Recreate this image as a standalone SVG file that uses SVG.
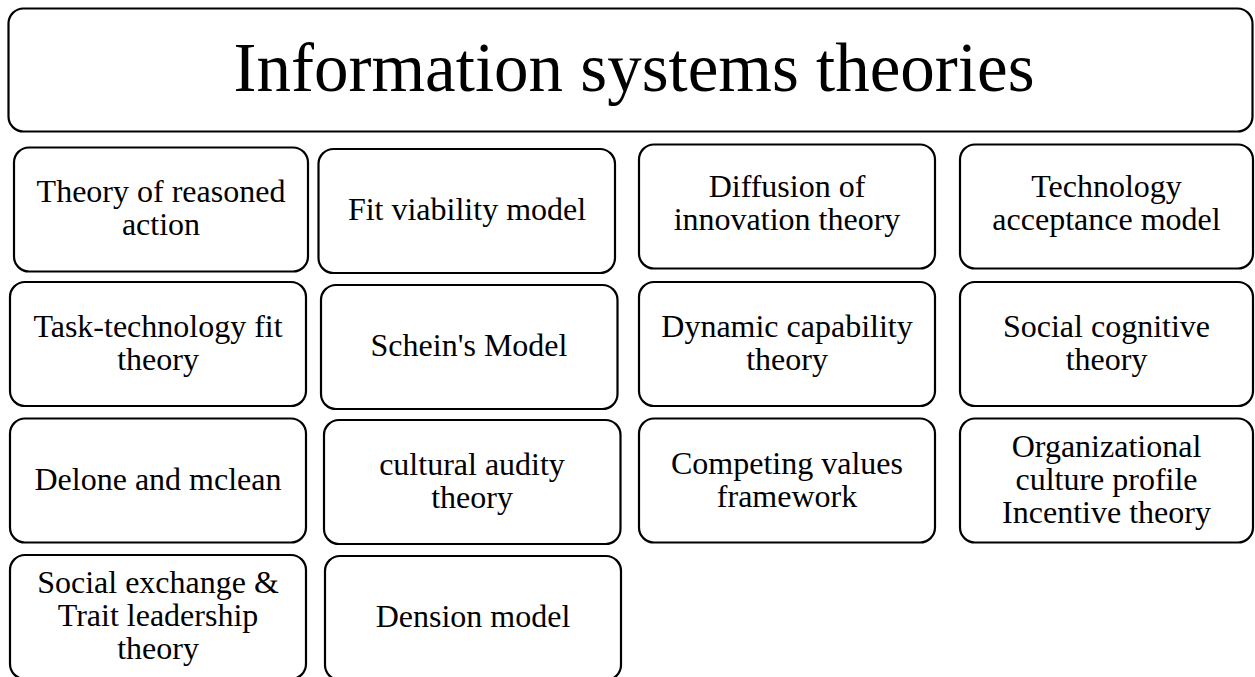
<svg xmlns="http://www.w3.org/2000/svg" width="1255" height="677" viewBox="0 0 1255 677">
<style>
.box{fill:#ffffff;stroke:#000000;stroke-width:2.2}
.t{font-family:"Liberation Serif","Times New Roman",serif;font-size:32px;fill:#000000;text-anchor:middle}
.title{font-family:"Liberation Serif","Times New Roman",serif;font-size:69px;fill:#000000;text-anchor:middle}
</style>
<rect width="1255" height="677" fill="#ffffff"/>
<g id="connectors"></g>
<g id="title">
<rect class="box" x="8.5" y="8.5" width="1244" height="123" rx="15"/>
<text class="title" x="634" y="91">Information systems theories</text>
</g>
<g id="n-tra">
<rect class="box" x="14" y="147.5" width="294" height="124" rx="15"/>
<text class="t" x="161" y="202">Theory of reasoned</text>
<text class="t" x="161" y="235">action</text>
</g>
<g id="n-fvm">
<rect class="box" x="318.5" y="149" width="296.5" height="124" rx="15"/>
<text class="t" x="467" y="220">Fit viability model</text>
</g>
<g id="n-doi">
<rect class="box" x="639" y="144.5" width="296" height="124" rx="15"/>
<text class="t" x="787" y="197">Diffusion of</text>
<text class="t" x="787" y="230">innovation theory</text>
</g>
<g id="n-tam">
<rect class="box" x="960" y="144.5" width="293" height="124" rx="15"/>
<text class="t" x="1106.5" y="197">Technology</text>
<text class="t" x="1106.5" y="230">acceptance model</text>
</g>
<g id="n-ttf">
<rect class="box" x="10" y="282" width="296" height="124" rx="15"/>
<text class="t" x="158" y="336.5">Task-technology fit</text>
<text class="t" x="158" y="369.5">theory</text>
</g>
<g id="n-schein">
<rect class="box" x="321" y="285" width="296.5" height="124" rx="15"/>
<text class="t" x="469" y="356">Schein's Model</text>
</g>
<g id="n-dct">
<rect class="box" x="639" y="282" width="296" height="124" rx="15"/>
<text class="t" x="787" y="336.5">Dynamic capability</text>
<text class="t" x="787" y="369.5">theory</text>
</g>
<g id="n-sct">
<rect class="box" x="960" y="282" width="293" height="124" rx="15"/>
<text class="t" x="1106.5" y="336.5">Social cognitive</text>
<text class="t" x="1106.5" y="369.5">theory</text>
</g>
<g id="n-delone">
<rect class="box" x="10" y="418.5" width="296" height="124" rx="15"/>
<text class="t" x="158" y="489.5">Delone and mclean</text>
</g>
<g id="n-cat">
<rect class="box" x="324" y="420" width="296.5" height="124" rx="15"/>
<text class="t" x="472" y="474.5">cultural audity</text>
<text class="t" x="472" y="507.5">theory</text>
</g>
<g id="n-cvf">
<rect class="box" x="639" y="418.5" width="296" height="124" rx="15"/>
<text class="t" x="787" y="474">Competing values</text>
<text class="t" x="787" y="507">framework</text>
</g>
<g id="n-ocp">
<rect class="box" x="960" y="418.5" width="293" height="124" rx="15"/>
<text class="t" x="1106.5" y="456.5">Organizational</text>
<text class="t" x="1106.5" y="489.5">culture profile</text>
<text class="t" x="1106.5" y="522.5">Incentive theory</text>
</g>
<g id="n-set">
<rect class="box" x="10" y="555" width="296" height="124" rx="15"/>
<text class="t" x="158" y="593">Social exchange &amp;</text>
<text class="t" x="158" y="626">Trait leadership</text>
<text class="t" x="158" y="659">theory</text>
</g>
<g id="n-dension">
<rect class="box" x="325" y="556" width="296" height="124" rx="15"/>
<text class="t" x="473" y="627">Dension model</text>
</g>
</svg>
